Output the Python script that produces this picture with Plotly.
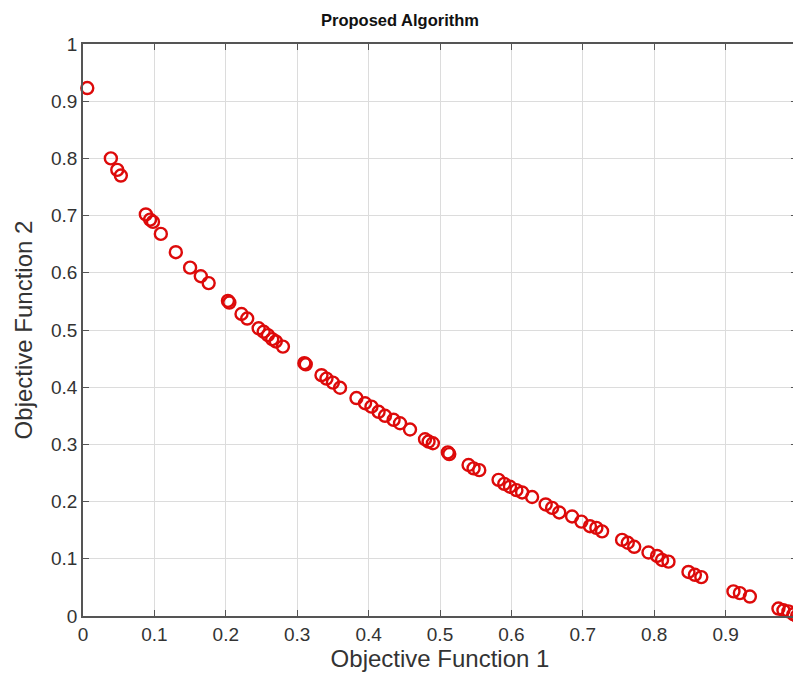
import plotly.graph_objects as go

obj1 = [0.006,0.039,0.048,0.053,0.088,0.094,0.098,0.109,0.130,0.150,0.165,0.176,0.203,0.205,
        0.222,0.230,0.246,0.253,0.259,0.265,0.270,0.280,0.310,0.312,0.334,0.341,0.350,0.360,
        0.383,0.395,0.404,0.414,0.423,0.435,0.444,0.458,0.479,0.484,0.490,0.511,0.513,0.540,
        0.547,0.555,0.582,0.590,0.598,0.607,0.615,0.629,0.648,0.657,0.667,0.685,0.698,0.710,
        0.719,0.727,0.755,0.763,0.772,0.792,0.804,0.811,0.820,0.848,0.857,0.866,0.911,0.920,
        0.934,0.974,0.981,0.988,0.995,1.0]
obj2 = [0.923,0.800,0.780,0.770,0.702,0.693,0.689,0.668,0.636,0.609,0.594,0.582,0.551,0.548,
        0.528,0.520,0.503,0.497,0.491,0.484,0.480,0.471,0.442,0.440,0.421,0.415,0.408,0.399,
        0.381,0.372,0.366,0.357,0.350,0.343,0.337,0.326,0.309,0.305,0.302,0.286,0.283,0.264,
        0.258,0.255,0.238,0.231,0.226,0.220,0.216,0.208,0.195,0.189,0.181,0.174,0.165,0.157,
        0.154,0.148,0.133,0.128,0.121,0.111,0.105,0.098,0.095,0.077,0.072,0.068,0.043,0.040,
        0.034,0.013,0.010,0.008,0.003,0.000]

tick_vals = [0,0.1,0.2,0.3,0.4,0.5,0.6,0.7,0.8,0.9,1]
tick_text = ["0","0.1","0.2","0.3","0.4","0.5","0.6","0.7","0.8","0.9","1"]

fig = go.Figure(go.Scatter(
    x=obj1, y=obj2, mode="markers",
    marker=dict(symbol="circle-open", size=12, color="#dd0a0a", line=dict(width=2.4, color="#dd0a0a")),
    cliponaxis=False, showlegend=False))

axis_common = dict(
    range=[0, 1], tickvals=tick_vals, ticktext=tick_text, automargin=False,
    showgrid=True, gridcolor="#dcdcdc", gridwidth=1,
    showline=True, linecolor="#555555", linewidth=1.5, mirror="ticks",
    ticks="inside", ticklen=6, tickcolor="#555555", tickwidth=1,
    zeroline=False, tickfont=dict(size=19, color="#333333"),
)

# page body has an 8px margin, so figure coordinates are page coordinates minus 8
fig.update_layout(
    width=793, height=676,
    margin=dict(l=75, r=4, t=36, b=68),
    paper_bgcolor="white", plot_bgcolor="white",
    font=dict(family="Liberation Sans, Arial, sans-serif", color="#333333"),
    title=dict(text="<b>Proposed Algorithm</b>", x=392 / 793, xanchor="center", xref="container",
               y=1 - 12/676, yanchor="middle", font=dict(size=16.5, color="#111111")),
    xaxis=dict(**axis_common, title=dict(text="Objective Function 1", font=dict(size=24, color="#333333"), standoff=4)),
    yaxis=dict(**axis_common, title=dict(text="Objective Function 2", font=dict(size=24, color="#333333"), standoff=12)),
)

fig.write_html("out.html")
